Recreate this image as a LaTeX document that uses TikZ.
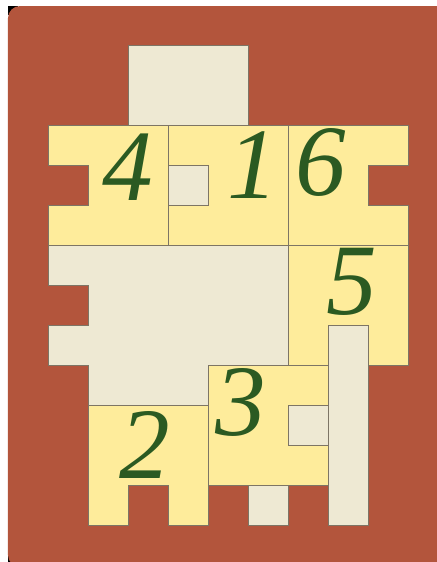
\documentclass[tikz,border=0pt]{standalone}
\usepackage{fontspec}
\newfontfamily\digitfont{Liberation Serif}
\usepackage{xcolor}
\usepackage{tikz}
\usetikzlibrary{positioning}
\definecolor{board}{HTML}{B3553C}
\definecolor{piecefill}{HTML}{FEEC9B}
\definecolor{cream}{HTML}{EEE9D3}
\definecolor{digit}{HTML}{2B5A22}
\definecolor{edge}{HTML}{7D7565}

\begin{document}
\begin{tikzpicture}[
    piece/.style={fill=piecefill, draw=edge, line width=0.5pt},
    hole/.style={fill=cream, draw=edge, line width=0.5pt},
    num/.style={inner sep=0pt, text=digit, font=\digitfont\fontsize{72}{72}\selectfont\itshape}
  ]
    \useasboundingbox (-1.2,1.125) rectangle (9.725,-12.925);
    % board
    \fill[black] (-1.0,0.975) rectangle (-0.75,0.75);
    \fill[black] (-1.0,-12.7) rectangle (-0.75,-12.925);
    \fill[board, rounded corners=0.3cm] (-1.0,0.975) rectangle (11.0,-13.05);

    % free cells
    \draw[hole] (2,0) rectangle (5,-2);
    \draw[hole] (3,-3) rectangle (4,-4);
    \draw[hole] (0,-5) -- (6,-5) -- (6,-8) -- (4,-8) -- (4,-9) -- (1,-9) -- (1,-8)
      -- (0,-8) -- (0,-7) -- (1,-7) -- (1,-6) -- (0,-6) -- cycle;
    \draw[hole] (7,-7) rectangle (8,-12);
    \draw[hole] (6,-9) rectangle (7,-10);
    \draw[hole] (5,-11) rectangle (6,-12);

    % pieces
    \draw[piece] (0,-2) -- (3,-2) -- (3,-5) -- (0,-5) -- (0,-4) -- (1,-4) -- (1,-3) -- (0,-3) -- cycle;
    \draw[piece] (3,-2) -- (6,-2) -- (6,-5) -- (3,-5) -- (3,-4) -- (4,-4) -- (4,-3) -- (3,-3) -- cycle;
    \draw[piece] (6,-2) -- (9,-2) -- (9,-3) -- (8,-3) -- (8,-4) -- (9,-4) -- (9,-5) -- (6,-5) -- cycle;
    \draw[piece] (6,-5) -- (9,-5) -- (9,-8) -- (8,-8) -- (8,-7) -- (7,-7) -- (7,-8) -- (6,-8) -- cycle;
    \draw[piece] (4,-8) -- (7,-8) -- (7,-9) -- (6,-9) -- (6,-10) -- (7,-10) -- (7,-11) -- (4,-11) -- cycle;
    \draw[piece] (1,-9) -- (4,-9) -- (4,-12) -- (3,-12) -- (3,-11) -- (2,-11) -- (2,-12) -- (1,-12) -- cycle;

    % numbers
    \node[num] (four) at (2.0,-3.05) {4};
    \node[num] (one) at (5.125,-3.0) {1};
    \node[num] (six) at (6.825,-2.925) {6};
    \node[num] (five) at (7.6,-5.925) {5};
    \node[num] (three) at (4.825,-8.925) {3};
    \node[num] (two) at (2.425,-10.0) {2};
\end{tikzpicture}
\end{document}
